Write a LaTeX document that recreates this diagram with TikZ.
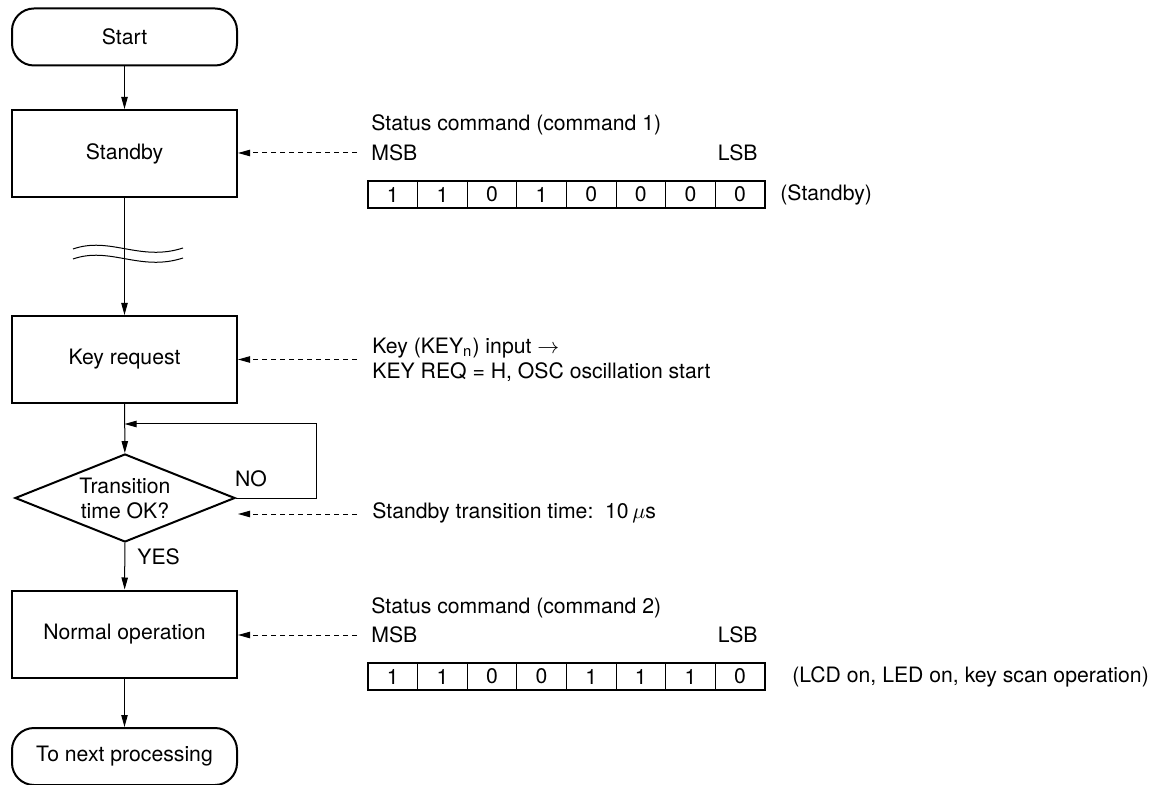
\documentclass[tikz,border=0pt]{standalone}
\usepackage{fontspec}
\setmainfont{TeX Gyre Heros}
\usetikzlibrary{shapes.geometric,arrows.meta,calc}
\tikzset{
    every node/.append style={
        font=\fontsize{10.6}{12.5}\selectfont
    },
    terminal/.style={
        draw,
        rectangle,
        rounded corners=11pt,
        line width=1pt,
        minimum width=112.5pt,
        minimum height=28.5pt,
        inner sep=0pt
    },
    process/.style={
        draw,
        rectangle,
        line width=1pt,
        minimum width=112.5pt,
        minimum height=43.5pt,
        inner sep=0pt
    },
    decision/.style={
        draw,
        diamond,
        aspect=2.5,
        line width=1pt,
        minimum width=110pt,
        minimum height=44pt,
        align=center,
        inner sep=0pt
    },
    bit/.style={
        draw,
        rectangle,
        line width=0.4pt,
        minimum width=24.8pt,
        minimum height=13.5pt,
        inner sep=0pt
    },
    flow/.style={
        -{Triangle[length=6pt,width=3.2pt]},
        line width=0.5pt
    },
    hint/.style={
        -{Triangle[length=6pt,width=3.2pt]},
        dash pattern=on 2.5pt off 2pt,
        line width=0.5pt
    },
    txt/.style={
        inner sep=0pt,
        align=left
    }
}

\begin{document}
\begin{tikzpicture}[x=0.5pt, y=-0.5pt]
    \useasboundingbox (0,0) rectangle (1155,785);

    % Flow chart
    \node[terminal] (start) at (124.5,37) {Start};
    \node[process] (standby) at (124.5,153.5) {Standby};
    \node[process] (keyreq) at (124.5,359.5) {Key request};
    \node[decision] (dec) at (125,498) {Transition\\time OK?};
    \node[process] (normal) at (124.5,634) {Normal operation};
    \node[terminal] (next) at (124.5,756.5) {To next processing};

    \draw[flow] (start) -- (standby);
    \draw[flow] (standby) -- (keyreq);
    \draw[flow] (keyreq) -- (dec);
    \draw[flow] (dec) -- (normal);
    \draw[flow] (normal) -- (next);

    % Break mark
    \draw[line width=0.5pt] (73,249) .. controls (110,236) and (140,262) .. (183,248);
    \draw[line width=0.5pt] (73,259) .. controls (110,246) and (140,272) .. (183,258);

    % NO loop
    \coordinate (loop) at (124.5,424);
    \draw[flow] (dec.east) -- (316,498) -- (316,424) -- (loop);
    \node[txt] (no) at (251,479) {NO};
    \node[txt, anchor=west] (yes) at (137,557) {YES};

    % Notes on the right
    \coordinate (n1) at (357,153);
    \coordinate (n2) at (357,359.5);
    \coordinate (n3) at (357,514);
    \coordinate (n3tip) at (238,514);
    \coordinate (n4) at (357,635);
    \draw[hint] (n1) -- (standby.east |- n1);
    \draw[hint] (n2) -- (keyreq.east |- n2);
    \draw[hint] (n3) -- (n3tip);
    \draw[hint] (n4) -- (normal.east |- n4);

    \node[txt, anchor=west] (cmd1) at (371,125) {Status command (command 1)};
    \node[txt, anchor=west] (msb1) at (371,153) {MSB};
    \node[txt, anchor=east] (lsb1) at (758,153) {LSB};
    \foreach \b [count=\i] in {1,1,0,1,0,0,0,0} {
        \node[bit] (sa\i) at (368+24.8+\i*49.6-49.6,194.5) {\b};
    }
    \draw[line width=1pt] (sa1.north west) rectangle (sa8.south east);
    \node[txt, anchor=west] (st1) at (780,194.5) {(Standby)};

    \node[txt, anchor=west] (keytxt) at (372,359.5)
        {Key (KEY\textsubscript{n}) input $\rightarrow$\\KEY REQ = H, OSC oscillation start};
    \node[txt, anchor=west] (ttxt) at (372,513) {Standby transition time:\ \ 10\,$\mu$s};

    \node[txt, anchor=west] (cmd2) at (371,608) {Status command (command 2)};
    \node[txt, anchor=west] (msb2) at (371,635) {MSB};
    \node[txt, anchor=east] (lsb2) at (758,635) {LSB};
    \foreach \b [count=\i] in {1,1,0,0,1,1,1,0} {
        \node[bit] (sb\i) at (368+24.8+\i*49.6-49.6,676.5) {\b};
    }
    \draw[line width=1pt] (sb1.north west) rectangle (sb8.south east);
    \node[txt, anchor=west] (st2) at (792,676.5) {(LCD on, LED on, key scan operation)};
\end{tikzpicture}
\end{document}
